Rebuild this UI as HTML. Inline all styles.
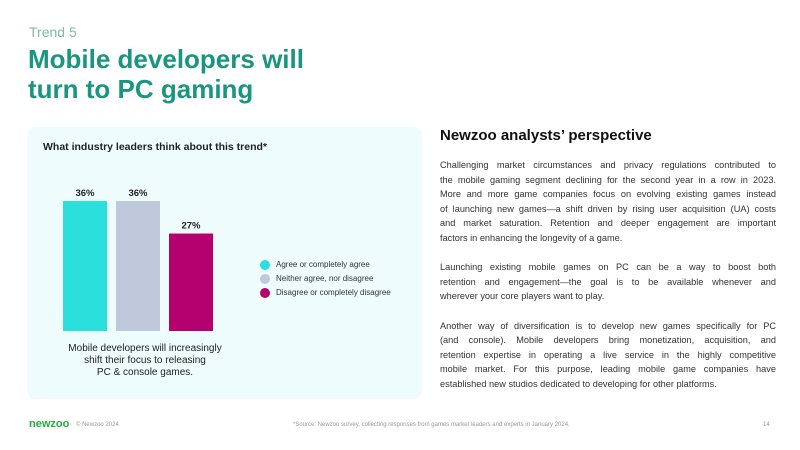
<!DOCTYPE html>
<html><head><meta charset="utf-8"><style>
body{margin:0;width:800px;height:450px;background:#fff;font-family:"Liberation Sans",sans-serif;position:relative;overflow:hidden}
.abs{position:absolute}
#trend{left:29px;top:24px;font-size:14px;color:#7fb9aa}
#title{left:28px;top:44px;font-size:26px;font-weight:bold;color:#1a9580;line-height:30px}
#panel{left:27px;top:127px;width:395px;height:272px;background:#effcfc;border-radius:9px}
#ctitle{left:43px;top:141px;font-size:10.5px;font-weight:bold;color:#222}
#caption{left:45px;top:343px;width:200px;text-align:center;font-size:10px;line-height:12px;color:#222}
.leg{left:276px;font-size:8px;color:#333}
.dot{width:10px;height:10px;border-radius:50%}
#rhead{left:440px;top:127px;font-size:15px;font-weight:bold;color:#111}
#rtext{left:440px;top:158px;width:336px;font-size:9.2px;line-height:14.6px;color:#333}
#rtext .l{white-space:nowrap;text-align:justify;text-align-last:justify;height:14.6px}
#rtext .e{text-align-last:left}
#rtext .gap{height:14.6px}
#foot{left:0;top:422px;width:800px;font-size:6px;color:#999}
</style></head><body>
<div class="abs" id="trend">Trend 5</div>
<div class="abs" id="title">Mobile developers will<br>turn to PC gaming</div>
<div class="abs" id="panel"></div>
<div class="abs" id="ctitle">What industry leaders think about this trend*</div>
<svg class="abs" style="left:0;top:0" width="800" height="450" id="chart"></svg>
<div class="abs" id="caption">Mobile developers will increasingly<br>shift their focus to releasing<br>PC &amp; console games.</div>
<div class="abs dot" style="left:260px;top:260px;background:#2be0dc"></div>
<div class="abs leg" style="top:260px">Agree or completely agree</div>
<div class="abs dot" style="left:260px;top:274px;background:#c0c8dc"></div>
<div class="abs leg" style="top:274px">Neither agree, nor disagree</div>
<div class="abs dot" style="left:260px;top:288px;background:#b5006f"></div>
<div class="abs leg" style="top:288px">Disagree or completely disagree</div>
<div class="abs" id="rhead">Newzoo analysts’ perspective</div>
<div class="abs" id="rtext">
<div class="l">Challenging market circumstances and privacy regulations contributed to</div>
<div class="l">the mobile gaming segment declining for the second year in a row in 2023.</div>
<div class="l">More and more game companies focus on evolving existing games instead</div>
<div class="l">of launching new games—a shift driven by rising user acquisition (UA) costs</div>
<div class="l">and market saturation. Retention and deeper engagement are important</div>
<div class="l e">factors in enhancing the longevity of a game.</div>
<div class="gap"></div>
<div class="l">Launching existing mobile games on PC can be a way to boost both</div>
<div class="l">retention and engagement—the goal is to be available whenever and</div>
<div class="l e">wherever your core players want to play.</div>
<div class="gap"></div>
<div class="l">Another way of diversification is to develop new games specifically for PC</div>
<div class="l">(and console). Mobile developers bring monetization, acquisition, and</div>
<div class="l">retention expertise in operating a live service in the highly competitive</div>
<div class="l">mobile market. For this purpose, leading mobile game companies have</div>
<div class="l e">established new studios dedicated to developing for other platforms.</div>
</div>
<div class="abs" id="foot">
<span class="abs" style="left:29px;top:-4px;font-size:11px;font-weight:bold;color:#1fae3c">newzoo</span>
<span class="abs" style="left:76px;top:0">© Newzoo 2024</span>
<span class="abs" style="left:293px;top:0">*Source: Newzoo survey, collecting responses from games market leaders and experts in January 2024.</span>
<span class="abs" style="left:763px;top:0">14</span>
</div>
<script>
const categories=["Agree or completely agree","Neither agree, nor disagree","Disagree or completely disagree"];
const values=[36,36,27];
const labels=["36%","36%","27%"];
const colors=["#2be0dc","#c0c8dc","#b5006f"];
const svg=document.getElementById('chart');
const NS="http://www.w3.org/2000/svg";
const base=331, ppu=3.61, x0=63, bw=44, step=53;
function y(v){return base-v*ppu;}
function x(i){return x0+i*step;}
values.forEach((v,i)=>{
  const r=document.createElementNS(NS,'rect');
  r.setAttribute('x',x(i));r.setAttribute('y',y(v));r.setAttribute('width',bw);r.setAttribute('height',base-y(v));r.setAttribute('fill',colors[i]);
  
  
  svg.appendChild(r);
  const t=document.createElementNS(NS,'text');
  t.setAttribute('x',x(i)+bw/2);t.setAttribute('y',y(v)-5);t.setAttribute('text-anchor','middle');
  t.setAttribute('font-size','9.5');t.setAttribute('font-weight','bold');t.setAttribute('fill','#222');
  t.textContent=labels[i];
  
  
  svg.appendChild(t);
});
</script>
</body></html>
